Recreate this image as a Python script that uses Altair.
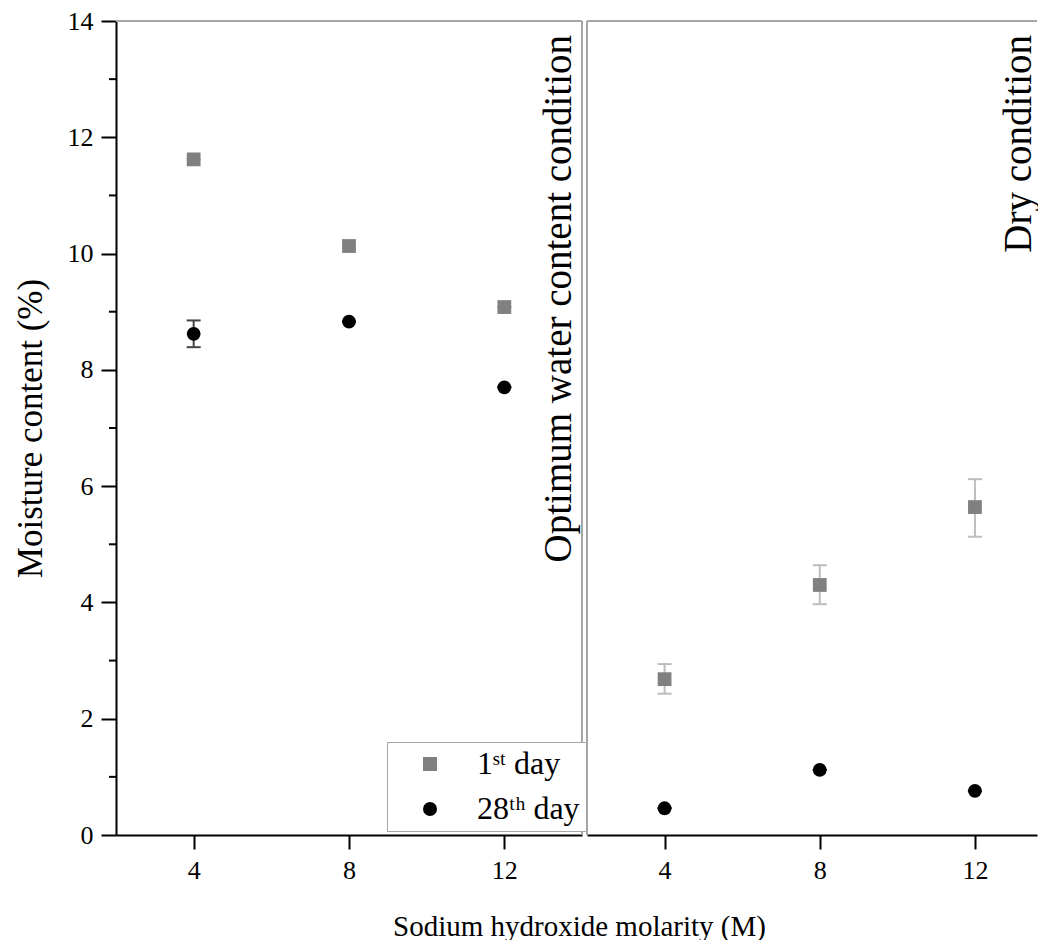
import altair as alt
import pandas as pd

# ---------------- data ----------------
molarity = [4, 8, 12]
series_names = ["1ˢᵗ day", "28ᵗʰ day"]

opt_day1 = [11.62, 10.13, 9.08]
opt_day1_lo = [11.62, 10.13, 9.08]
opt_day1_hi = [11.62, 10.13, 9.08]
opt_day28 = [8.62, 8.83, 7.70]
opt_day28_lo = [8.39, 8.83, 7.70]
opt_day28_hi = [8.85, 8.83, 7.70]

dry_day1 = [2.68, 4.30, 5.64]
dry_day1_lo = [2.43, 3.97, 5.13]
dry_day1_hi = [2.94, 4.64, 6.12]
dry_day28 = [0.46, 1.12, 0.76]
dry_day28_lo = [0.46, 1.12, 0.76]
dry_day28_hi = [0.46, 1.12, 0.76]

y_major = [0, 2, 4, 6, 8, 10, 12, 14]
y_minor = [1, 3, 5, 7, 9, 11, 13]
x_ticks = [4, 8, 12]

ann_opt = ["Optimum water content condition"]
ann_opt_x = [13.41]
ann_opt_y = [13.76]
ann_dry = ["Dry condition"]
ann_dry_x = [13.14]
ann_dry_y = [13.76]

FONT = "Liberation Serif"
ERR_COLORS = ["#bdbdbd", "#444444"]
POINT_COLORS = ["#808080", "#000000"]
BORDER = "#a6a6a6"
H = 814


def make_df(v1, lo1, hi1, v28, lo28, hi28):
    rows = []
    for s, vals, los, his, ec in [
        (series_names[0], v1, lo1, hi1, ERR_COLORS[0]),
        (series_names[1], v28, lo28, hi28, ERR_COLORS[1]),
    ]:
        for m, v, lo, hi in zip(molarity, vals, los, his):
            rows.append(dict(molarity=m, series=s, value=v, lo=lo, hi=hi, errcol=ec))
    return pd.DataFrame(rows)


legend = alt.Legend(
    title=None, orient="none", legendX=271, legendY=721,
    strokeColor=BORDER, fillColor="white", padding=6,
    labelFont=FONT, labelFontSize=32, labelColor="black",
    symbolSize=196, symbolOffset=21, labelOffset=31, rowPadding=13,
    symbolStrokeWidth=0, symbolOpacity=1,
)


def panel(df, xmax, width, ann_t, ann_x, ann_y, first):
    xscale = alt.Scale(domain=[2, xmax], nice=False, zero=False)
    yscale = alt.Scale(domain=[0, 14], nice=False, zero=False)
    xaxis = alt.Axis(
        values=x_ticks, grid=False, domainColor="black", domainWidth=2,
        tickColor="black", tickWidth=2, tickSize=14, labelPadding=8,
        labelFont=FONT, labelFontSize=26, labelColor="black",
        title="Sodium hydroxide molarity (M)" if first else None,
        titleFont=FONT, titleFontSize=29, titleFontWeight="normal", titleColor="black",
        titleX=463, titleY=91, titleBaseline="middle", titleAlign="center",
    )
    if first:
        yaxis = alt.Axis(
            values=y_major, grid=False, domainColor="black", domainWidth=2,
            tickColor="black", tickWidth=2, tickSize=15, labelPadding=8,
            labelFont=FONT, labelFontSize=26, labelColor="black",
            title="Moisture content (%)", titleFont=FONT, titleFontSize=35,
            titleFontWeight="normal", titleColor="black", titlePadding=19,
        )
    else:
        yaxis = None

    def X(field):
        return alt.X(field, type="quantitative", scale=xscale, axis=xaxis)

    def Y(field):
        return alt.Y(field, type="quantitative", scale=yscale, axis=yaxis)

    base = alt.Chart(df)
    err = base.mark_rule(strokeWidth=2).encode(
        x=X("molarity"), y=Y("lo"), y2="hi:Q",
        color=alt.Color("errcol:N", scale=None),
    )
    cap_lo = base.mark_tick(orient="horizontal", size=14, thickness=2, opacity=1).encode(
        x=X("molarity"), y=Y("lo"), color=alt.Color("errcol:N", scale=None),
    )
    cap_hi = base.mark_tick(orient="horizontal", size=14, thickness=2, opacity=1).encode(
        x=X("molarity"), y=Y("hi"), color=alt.Color("errcol:N", scale=None),
    )
    pts = base.mark_point(filled=True, size=190, strokeWidth=0, opacity=1, fillOpacity=1).encode(
        x=X("molarity"), y=Y("value"),
        color=alt.Color("series:N", scale=alt.Scale(domain=series_names, range=POINT_COLORS), legend=legend),
        shape=alt.Shape("series:N", scale=alt.Scale(domain=series_names, range=["square", "circle"]), legend=legend),
    )
    ann_df = pd.DataFrame({"t": ann_t, "x": ann_x, "y": ann_y})
    ann = alt.Chart(ann_df).mark_text(
        font=FONT, fontSize=39, color="black", angle=270, align="right", baseline="middle"
    ).encode(x=X("x"), y=Y("y"), text="t:N")

    frame_data = alt.Data(values=[{"a": 1}])
    top = alt.Chart(frame_data).mark_rule(color=BORDER, strokeWidth=2).encode(
        x=alt.value(0), x2=alt.value(width), y=alt.value(0))
    side_x = width if first else 0
    side = alt.Chart(frame_data).mark_rule(color=BORDER, strokeWidth=2).encode(
        x=alt.value(side_x), y=alt.value(0), y2=alt.value(H))
    layers = [top, side, err, cap_lo, cap_hi, pts, ann]
    if first:
        minor_df = pd.DataFrame({"m": y_minor})
        minor = alt.Chart(minor_df).mark_rule(color="black", strokeWidth=2).encode(
            y=Y("m"), x=alt.value(-7), x2=alt.value(0))
        layers.append(minor)
    return alt.layer(*layers).properties(width=width, height=H)


left = panel(make_df(opt_day1, opt_day1_lo, opt_day1_hi, opt_day28, opt_day28_lo, opt_day28_hi),
             14, 466, ann_opt, ann_opt_x, ann_opt_y, True)
right = panel(make_df(dry_day1, dry_day1_lo, dry_day1_hi, dry_day28, dry_day28_lo, dry_day28_hi),
              13.6, 450, ann_dry, ann_dry_x, ann_dry_y, False)

chart = alt.hconcat(left, right, spacing=5, bounds="flush").resolve_scale(
    color="shared", shape="shared"
).properties(
    padding={"left": 5, "top": 0, "right": -2, "bottom": -1},
    background="white",
).configure_view(stroke=None).configure_legend(symbolOpacity=1).configure_point(opacity=1)

chart.save("out.html", embed_options={"renderer": "svg", "actions": False})
